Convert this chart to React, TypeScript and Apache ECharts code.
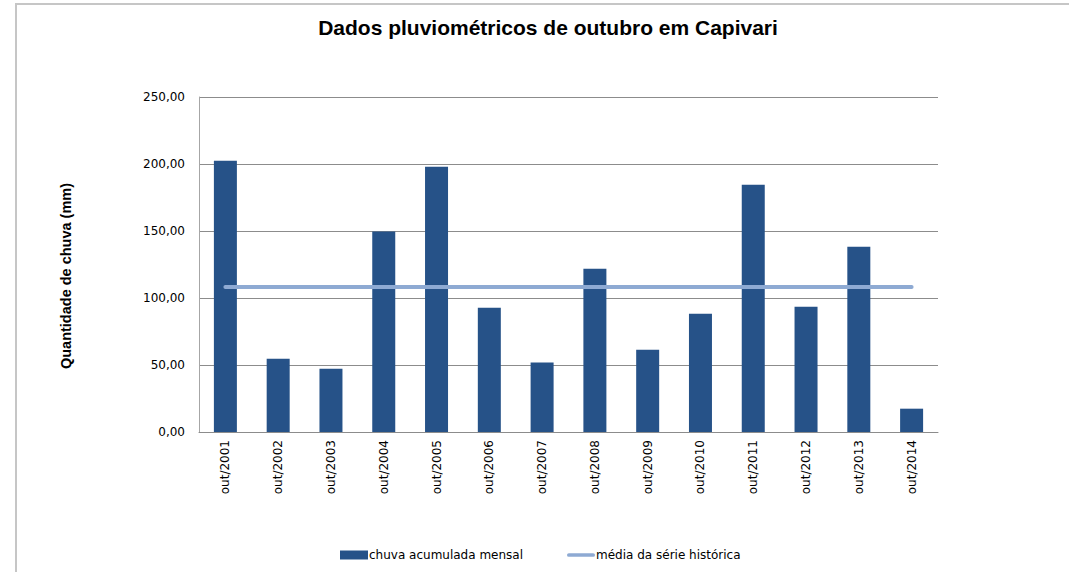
import React, { useEffect, useRef } from "react";
import * as echarts from "echarts";

const categories = [
  "out/2001", "out/2002", "out/2003", "out/2004", "out/2005", "out/2006", "out/2007",
  "out/2008", "out/2009", "out/2010", "out/2011", "out/2012", "out/2013", "out/2014",
];
const rainfall = [202.5, 54.7, 47.2, 149.7, 198.0, 92.8, 51.8, 121.9, 61.4, 88.3, 184.6, 93.5, 138.3, 17.4];
const historicalMean = [108.2, 108.2, 108.2, 108.2, 108.2, 108.2, 108.2, 108.2, 108.2, 108.2, 108.2, 108.2, 108.2, 108.2];

const titleText = "Dados pluviométricos de outubro em Capivari";
const yAxisTitle = "Quantidade de chuva (mm)";
const barName = "chuva acumulada mensal";
const lineName = "média da série histórica";

const labelFont = "DejaVu Sans";
const titleFont = "Liberation Sans";

export default function App() {
  const ref = useRef<HTMLDivElement>(null);
  useEffect(() => {
    if (!ref.current) return;
    const chart = echarts.init(ref.current, undefined, { renderer: "svg" });
    chart.setOption({
      animation: false,
      backgroundColor: "#ffffff",
      title: {
        text: titleText,
        left: 543,
        textAlign: "center",
        top: 12,
        textStyle: { fontFamily: titleFont, fontSize: 21, fontWeight: "bold", color: "#000" },
      },
      graphic: [
        {
          type: "polyline",
          shape: { points: [[16, 580], [16, 4], [1080, 4]] },
          style: { stroke: "#c6c6c6", lineWidth: 2, fill: "none" },
          silent: true,
        },
        {
          type: "text",
          x: 66,
          y: 276,
          rotation: Math.PI / 2,
          style: {
            text: yAxisTitle,
            fontFamily: titleFont,
            fontSize: 14.5,
            fontWeight: "bold",
            fill: "#000",
            align: "center",
            verticalAlign: "middle",
          },
        },
      ],
      legend: {
        left: 335,
        top: 544,
        itemGap: 44,
        itemWidth: 28,
        itemHeight: 9,
        textStyle: { fontFamily: labelFont, fontSize: 12, color: "#000", padding: [0, 0, 0, -4] },
        data: [
          { name: barName, icon: "rect" },
          { name: lineName, icon: "path://M2,0H28A2,2 0 0 1 28,4H2A2,2 0 0 1 2,0Z", itemStyle: { color: "#8eaad3" } },
        ],
      },
      grid: { left: 199, right: 131, top: 97, bottom: 140, containLabel: false },
      xAxis: {
        type: "category",
        data: categories,
        axisLine: { lineStyle: { color: "#8c8c8c", width: 1 } },
        axisTick: { show: false },
        axisLabel: {
          rotate: 90,
          margin: 8,
          fontFamily: labelFont,
          fontSize: 12,
          color: "#000",
        },
      },
      yAxis: {
        type: "value",
        min: 0,
        max: 250,
        interval: 50,
        axisLine: { show: true, lineStyle: { color: "#a6a6a6", width: 1 } },
        axisTick: { show: false },
        splitLine: { lineStyle: { color: "#8c8c8c", width: 1 } },
        axisLabel: {
          margin: 14,
          fontFamily: labelFont,
          fontSize: 12,
          color: "#000",
          formatter: (v: number) => v.toFixed(2).replace(".", ","),
        },
      },
      series: [
        {
          name: barName,
          type: "bar",
          data: rainfall,
          barWidth: 23,
          itemStyle: { color: "#265288" },
        },
        {
          name: lineName,
          type: "line",
          data: historicalMean,
          symbol: "none",
          lineStyle: { color: "#8eaad3", width: 4, cap: "round" },
          itemStyle: { color: "#8eaad3" },
        },
      ],
    });
    return () => chart.dispose();
  }, []);
  return (
    <div
      ref={ref}
      style={{ position: "fixed", left: 0, top: 0, width: 1069, height: 572 }}
    />
  );
}
